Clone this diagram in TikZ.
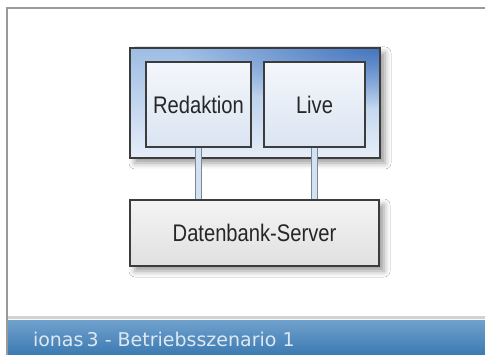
\documentclass[tikz,border=0pt]{standalone}
\usepackage{fontspec}
\setmainfont{Liberation Sans}
\newfontfamily\condfont[FakeStretch=0.84]{Liberation Sans}
\newfontfamily\barfont{DejaVu Sans}
\usetikzlibrary{shadows.blur,fadings}
\definecolor{framegray}{HTML}{9A9A9A}
\definecolor{boxline}{HTML}{3C3C3C}
\definecolor{innertop}{HTML}{F4F7FB}
\definecolor{innerbottom}{HTML}{DAE4F2}
\definecolor{clustertop}{HTML}{9DBDE4}
\definecolor{clusterbottom}{HTML}{E6EEF8}
\definecolor{cornerblue}{HTML}{3468B8}
\definecolor{dbtop}{HTML}{F4F4F4}
\definecolor{dbbottom}{HTML}{E0E0E0}
\definecolor{linkgray}{HTML}{7A8796}
\definecolor{linkblue}{HTML}{D3E2F3}
\definecolor{bartop}{HTML}{6FA0CC}
\definecolor{barbottom}{HTML}{3C7AB1}
\definecolor{bartext}{HTML}{DDE8F2}
\definecolor{bandgray}{HTML}{D2D2D2}
\tikzfading[name=fade corner, inner color=transparent!0, outer color=transparent!100]

\begin{document}
\begin{tikzpicture}[x=1pt,y=-1pt,
  every node/.style={outer sep=0pt, inner sep=0pt, text=black!85, font=\condfont\fontsize{24}{24}\selectfont},
  box/.style={draw=boxline, line width=1.5pt},
  soft shadow/.style={blur shadow={shadow xshift=5pt, shadow yshift=-5pt, shadow blur radius=6pt, shadow opacity=40}},
  link/.style={draw=linkgray, line width=1pt, double=linkblue, double distance=5pt}]
\useasboundingbox (0,0) rectangle (485,355);
\fill[white] (0,0) rectangle (485,355);

\fill[bandgray] (8,316) rectangle (485,321);
\fill[white!94!gray] (8,319) rectangle (485,321);
\shade[top color=bartop, bottom color=barbottom] (8,321) rectangle (485,355);
\draw[framegray, line width=1.6pt] (7,355) -- (7,8) -- (485,8);

\node[box, soft shadow, top color=clustertop, bottom color=clusterbottom, minimum width=250pt, minimum height=110pt] (cluster) at (255,103) {};
\begin{scope}
\clip (cluster.north west) rectangle (cluster.south east);
\fill[cornerblue, fill opacity=0.85, path fading=fade corner] (cluster.north east) ellipse [x radius=200, y radius=60];
\end{scope}
\draw[boxline, line width=1.5pt] (cluster.north west) rectangle (cluster.south east);

\node[box, soft shadow, top color=dbtop, bottom color=dbbottom, minimum width=249pt, minimum height=66pt] (db) at (254.5,233) {Datenbank-Server};

\node[box, top color=innertop, bottom color=innerbottom, minimum width=105pt, minimum height=85pt] (red) at (198.5,104.5) {Redaktion};
\node[box, top color=innertop, bottom color=innerbottom, minimum width=101pt, minimum height=85pt] (live) at (314.5,104.5) {Live};

\draw[link] ([yshift=-0.75pt]red.south) -- ([yshift=0.75pt]red.south |- db.north);
\draw[link] ([yshift=-0.75pt]live.south) -- ([yshift=0.75pt]live.south |- db.north);

\node[anchor=base west, text=bartext, font=\barfont\fontsize{19}{19}\selectfont] (title) at (33,346.5) {ionas\,3 - Betriebsszenario 1};
\end{tikzpicture}
\end{document}
